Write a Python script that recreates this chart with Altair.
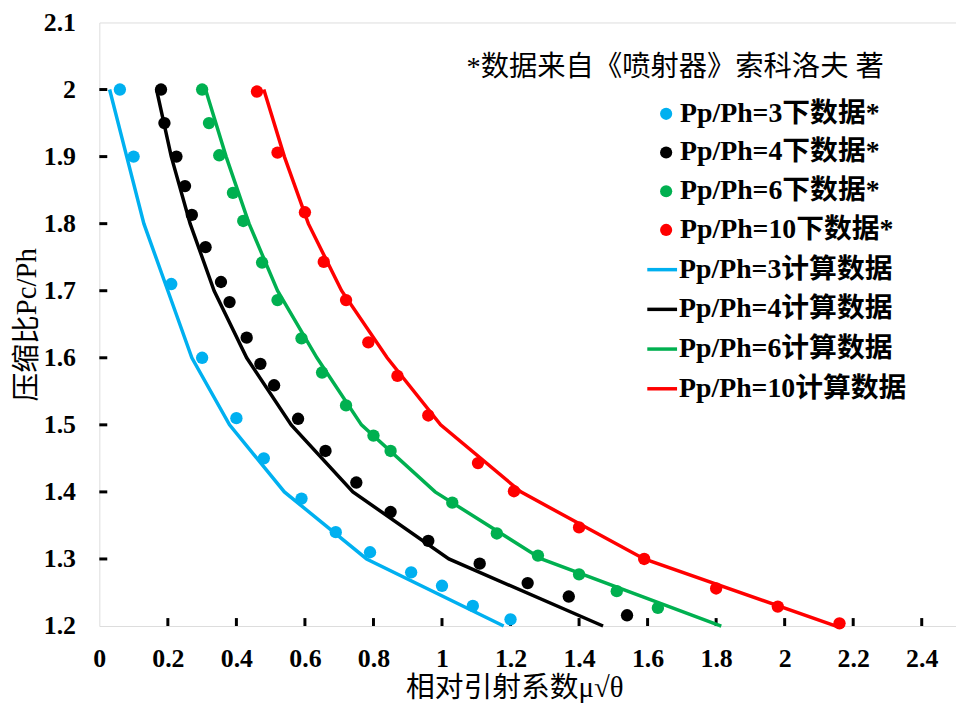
import altair as alt
import pandas as pd

FONT = "Liberation Serif, Noto Sans CJK SC"

series = ["Pp/Ph=3", "Pp/Ph=4", "Pp/Ph=6", "Pp/Ph=10"]
colors = ["#00B0F0", "#000000", "#00B050", "#FF0000"]
note = "*数据来自《喷射器》索科洛夫 著"

# measured data (points)
p3_x = [0.06, 0.10, 0.21, 0.30, 0.40, 0.48, 0.59, 0.69, 0.79, 0.91, 1.00, 1.09, 1.20]
p3_y = [2.00, 1.90, 1.71, 1.60, 1.51, 1.45, 1.39, 1.34, 1.31, 1.28, 1.26, 1.23, 1.21]
p4_x = [0.18, 0.19, 0.225, 0.25, 0.27, 0.31, 0.355, 0.38, 0.43, 0.47, 0.51, 0.58, 0.66,
        0.75, 0.85, 0.96, 1.11, 1.25, 1.37, 1.54]
p4_y = [2.00, 1.95, 1.90, 1.856, 1.813, 1.765, 1.713, 1.683, 1.63, 1.591, 1.559, 1.509, 1.461,
        1.414, 1.37, 1.327, 1.293, 1.264, 1.244, 1.216]
p6_x = [0.30, 0.32, 0.35, 0.39, 0.42, 0.475, 0.52, 0.59, 0.65, 0.72, 0.80, 0.85,
        1.03, 1.16, 1.28, 1.40, 1.51, 1.63]
p6_y = [2.00, 1.95, 1.902, 1.846, 1.804, 1.742, 1.686, 1.629, 1.578, 1.529, 1.484, 1.461,
        1.384, 1.338, 1.305, 1.277, 1.252, 1.227]
p10_x = [0.46, 0.52, 0.60, 0.655, 0.72, 0.785, 0.87, 0.96, 1.105, 1.21, 1.40, 1.59, 1.80, 1.98, 2.16]
p10_y = [1.997, 1.906, 1.817, 1.743, 1.686, 1.623, 1.573, 1.514, 1.443, 1.401, 1.347, 1.30, 1.256, 1.229, 1.204]

# calculated data (lines)
calc_y = [2.0, 1.9, 1.8, 1.7, 1.6, 1.5, 1.4, 1.3, 1.2]
c3_x = [0.03, 0.08, 0.13, 0.20, 0.27, 0.38, 0.54, 0.78, 1.18]
c4_x = [0.167, 0.21, 0.265, 0.335, 0.43, 0.56, 0.74, 1.02, 1.47]
c6_x = [0.31, 0.37, 0.437, 0.52, 0.635, 0.765, 0.98, 1.29, 1.815]
c10_x = [0.48, 0.54, 0.61, 0.707, 0.84, 0.996, 1.23, 1.59, 2.15]

x_ticks = [0.2, 0.4, 0.6, 0.8, 1.0, 1.2, 1.4, 1.6, 1.8, 2.0, 2.2, 2.4]
y_ticks = [1.3, 1.4, 1.5, 1.6, 1.7, 1.8, 1.9, 2.0]

pt_labels = [s + "下数据*" for s in series]
ln_labels = [s + "计算数据" for s in series]

W, H = 863, 608
TICK = 8

pts = []
for lab, xs, ys in zip(pt_labels, [p3_x, p4_x, p6_x, p10_x], [p3_y, p4_y, p6_y, p10_y]):
    pts += [{"x": a, "y": b, "label": lab} for a, b in zip(xs, ys)]
pts = pd.DataFrame(pts)

lns = []
for lab, xs in zip(ln_labels, [c3_x, c4_x, c6_x, c10_x]):
    lns += [{"x": a, "y": b, "label": lab} for a, b in zip(xs, calc_y)]
lns = pd.DataFrame(lns)

xscale = alt.Scale(domain=[0, 2.5], nice=False, zero=False)
yscale = alt.Scale(domain=[1.2, 2.1], nice=False, zero=False)

xaxis = alt.Axis(values=[0, 0.2, 0.4, 0.6, 0.8, 1.0, 1.2, 1.4, 1.6, 1.8, 2.0, 2.2, 2.4],
                 format="~g", domain=False, ticks=False, grid=False,
                 labelFont=FONT, labelFontSize=26, labelFontWeight="bold", labelColor="black",
                 labelPadding=20, title="相对引射系数μ√θ", titleFont=FONT, titleFontSize=29,
                 titleFontWeight="normal", titleColor="black", titlePadding=2, titleX=418,
                 labelFlush=False)
yaxis = alt.Axis(values=[1.2, 1.3, 1.4, 1.5, 1.6, 1.7, 1.8, 1.9, 2.0, 2.1],
                 format="~g", domain=False, ticks=False, grid=False,
                 labelFont=FONT, labelFontSize=26, labelFontWeight="bold", labelColor="black",
                 labelPadding=24, title="压缩比Pc/Ph", titleFont=FONT, titleFontSize=29,
                 titleFontWeight="normal", titleColor="black", titlePadding=2, labelFlush=False)

# inward axis ticks
xt = alt.Chart(pd.DataFrame({"v": x_ticks})).mark_rule(strokeWidth=3, color="black").encode(
    x=alt.X("v:Q", scale=xscale, axis=xaxis), y=alt.value(H - TICK), y2=alt.value(H))
yt = alt.Chart(pd.DataFrame({"v": y_ticks})).mark_rule(strokeWidth=3, color="black").encode(
    y=alt.Y("v:Q", scale=yscale, axis=yaxis), x=alt.value(0), x2=alt.value(TICK))

points = alt.Chart(pts).mark_circle(size=155, opacity=1).encode(
    x=alt.X("x:Q", scale=xscale, axis=xaxis),
    y=alt.Y("y:Q", scale=yscale, axis=yaxis),
    fill=alt.Fill("label:N", scale=alt.Scale(domain=pt_labels, range=colors),
                  legend=alt.Legend(title=None, orient="none", legendX=557, legendY=78,
                                    labelFont=FONT, labelFontSize=28, labelFontWeight="bold",
                                    labelColor="black", symbolSize=150, symbolType="circle",
                                    labelOffset=0, rowPadding=11, padding=0, labelLimit=0,
                                    symbolStrokeWidth=0)),
)

lines = alt.Chart(lns).mark_line(strokeWidth=3.5).encode(
    x=alt.X("x:Q", scale=xscale),
    y=alt.Y("y:Q", scale=yscale),
    stroke=alt.Stroke("label:N", scale=alt.Scale(domain=ln_labels, range=colors),
                      legend=alt.Legend(title=None, orient="none", legendX=550, legendY=232,
                                        labelFont=FONT, labelFontSize=28, labelFontWeight="bold",
                                        labelColor="black", symbolSize=900, symbolType="stroke",
                                        symbolStrokeWidth=3.5, labelOffset=0, rowPadding=9,
                                        padding=0, labelLimit=0)),
)

txt = alt.Chart(pd.DataFrame({"t": [note]})).mark_text(
    align="left", baseline="middle", font=FONT, fontSize=28.5, color="black").encode(
    x=alt.value(370), y=alt.value(45), text="t:N")

chart = alt.layer(xt, yt, points, lines, txt).properties(
    width=W, height=H,
    autosize=alt.AutoSizeParams(type="none"),
    padding={"left": 92, "top": 12, "right": 0, "bottom": 80},
).configure_view(stroke="black", strokeWidth=3).configure(background="white")

chart.save("out.html", embed_options={"renderer": "svg", "actions": False})
